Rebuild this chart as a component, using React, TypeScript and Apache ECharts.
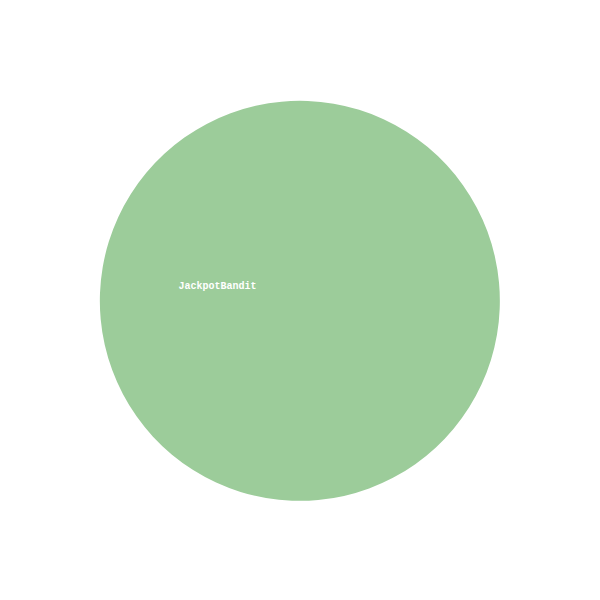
import React, { useEffect, useRef } from "react";
import * as echarts from "echarts";

const names = ["JackpotBandit"];
const values = [1];
const colors = ["#9ccc9a"];

export default function App() {
  const ref = useRef<HTMLDivElement>(null);
  useEffect(() => {
    document.body.style.margin = "0";
    const chart = echarts.init(ref.current!, null, { renderer: "svg" });
    chart.setOption({
      animation: false,
      backgroundColor: "#ffffff",
      series: [
        {
          type: "pie",
          center: ["50%", "50%"],
          radius: [0, 200],
          startAngle: 350,
          data: names.map((n, i) => ({
            name: n,
            value: values[i],
            itemStyle: { color: colors[i] },
          })),
          label: {
            show: true,
            position: "inside",
            color: "#ffffff",
            fontFamily: "'Courier New', Courier, monospace",
            fontWeight: "bold",
            fontSize: 10,
          },
          labelLayout: { dx: 19, dy: 4 },
          labelLine: { show: false },
        },
      ],
    });
    return () => chart.dispose();
  }, []);
  return <div ref={ref} style={{ width: 600, height: 600 }} />;
}
